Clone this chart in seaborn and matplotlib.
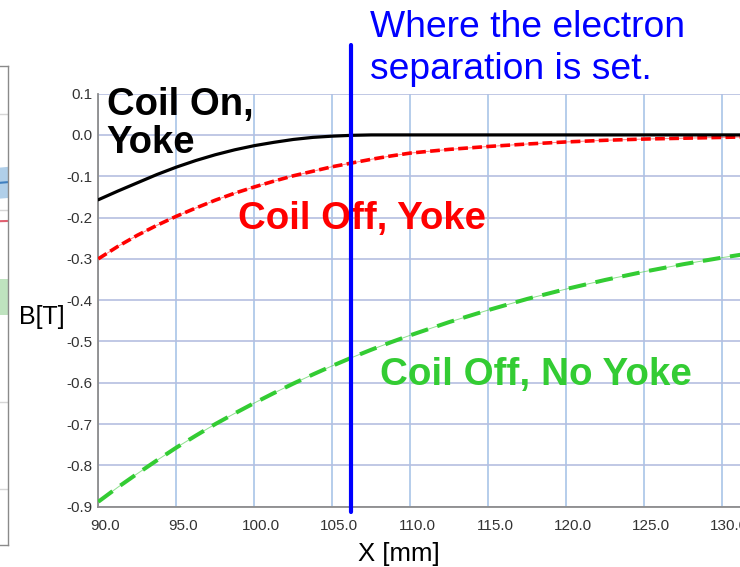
import matplotlib
matplotlib.use("Agg")
import matplotlib.pyplot as plt
from matplotlib.transforms import ScaledTranslation
import pandas as pd
import seaborn as sns

# ---------------- data ----------------
x_mm = [90.0, 91.25, 92.5, 93.75, 95.0, 96.25, 97.5, 98.75, 100.0, 101.25,
        102.5, 103.75, 105.0, 106.25, 107.5, 108.75, 110.0, 112.5, 115.0, 117.5,
        120.0, 122.5, 125.0, 127.5, 130.0, 131.2]
coil_on_yoke = [-0.157, -0.136, -0.116, -0.096, -0.078, -0.062, -0.048, -0.036,
                -0.026, -0.018, -0.011, -0.006, -0.003, -0.001, 0.000, 0.000,
                0.000, 0.000, 0.000, 0.000, 0.000, 0.000, 0.000, 0.000, 0.000, 0.000]
coil_off_yoke = [-0.300, -0.270, -0.243, -0.219, -0.197, -0.177, -0.158, -0.141,
                 -0.126, -0.112, -0.099, -0.088, -0.077, -0.068, -0.059, -0.051,
                 -0.044, -0.035, -0.028, -0.022, -0.017, -0.013, -0.010, -0.008,
                 -0.006, -0.005]
coil_off_no_yoke = [-0.888, -0.853, -0.820, -0.788, -0.757, -0.728, -0.700, -0.674,
                    -0.649, -0.625, -0.602, -0.580, -0.559, -0.539, -0.520, -0.502,
                    -0.485, -0.453, -0.424, -0.397, -0.373, -0.351, -0.331, -0.313,
                    -0.297, -0.290]
separation_x = 106.2

x_ticks = [90, 95, 100, 105, 110, 115, 120, 125, 130]
x_ticklabels = ["90.0", "95.0", "100.0", "105.0", "110.0", "115.0", "120.0", "125.0", "130.0"]
y_ticks = [0.1, 0.0, -0.1, -0.2, -0.3, -0.4, -0.5, -0.6, -0.7, -0.8, -0.9]
y_ticklabels = ["0.1", "0.0", "-0.1", "-0.2", "-0.3", "-0.4", "-0.5", "-0.6", "-0.7", "-0.8", "-0.9"]

# partial neighbouring chart (left edge), values in its own 0..1 scale
nb_x = [0.0, 1.0]
nb_grid = [0.899, 0.699, 0.298, 0.117]
nb_blue_lo = [0.700, 0.725]
nb_blue_hi = [0.760, 0.790]
nb_blue_mid = [0.730, 0.757]
nb_red = [0.668, 0.676]
nb_green_lo = [0.480, 0.480]
nb_green_hi = [0.555, 0.555]

df = pd.DataFrame({"x": x_mm, "on_yoke": coil_on_yoke,
                   "off_yoke": coil_off_yoke, "off_noyoke": coil_off_no_yoke})

# ---------------- style ----------------
sns.set_theme(style="white")
plt.rcParams["font.family"] = ["Liberation Sans", "DejaVu Sans"]

W, H = 740, 567
fig = plt.figure(figsize=(W / 100, H / 100), dpi=100)
fig.patch.set_facecolor("white")

# neighbouring chart sliver
nb = fig.add_axes([-0.2, 22 / H, 0.2 + 7.5 / W, 479.3 / H])
nb.set_xlim(0, 1)
nb.set_ylim(0, 1)
for yv in nb_grid:
    nb.axhline(yv, color="#d6d6d6", lw=1)
nb.fill_between(nb_x, nb_blue_lo, nb_blue_hi, color="#9cc3e4", alpha=0.8, lw=0)
nb.plot(nb_x, nb_blue_mid, color="#3f7fbf", lw=1.5)
nb.plot(nb_x, nb_red, color="#e06070", lw=1.5)
nb.fill_between(nb_x, nb_green_lo, nb_green_hi, color="#bfe3bf", lw=0)
nb.set_xticks([])
nb.set_yticks([])
for s in nb.spines.values():
    s.set_color("#8a8a8a")
    s.set_linewidth(1.0)

# main axes
ax = fig.add_axes([98.3 / W, (H - 506.7) / H, 641.7 / W, 413.1 / H])
ax.set_facecolor("white")

ax.set_xlim(90, 90 + 641.7 / 15.6)
ax.set_ylim(-0.9, 0.1)
ax.set_xticks(x_ticks)
ax.set_xticklabels(x_ticklabels)
ax.set_yticks(y_ticks)
ax.set_yticklabels(y_ticklabels)

ax.xaxis.grid(True, color="#a9c5e8", lw=1.2)
ax.yaxis.grid(True, color="#b5bfe0", lw=1.2)
ax.set_axisbelow(True)

for side in ["top", "right"]:
    ax.spines[side].set_visible(False)
for side in ["left", "bottom"]:
    ax.spines[side].set_color("#8c8c8c")
    ax.spines[side].set_linewidth(1.3)

ax.tick_params(axis="both", length=0, labelsize=11, labelcolor="#333333")
ax.tick_params(axis="y", pad=4.5)
ax.tick_params(axis="x", pad=9)
off = ScaledTranslation(7 / 100, 0, fig.dpi_scale_trans)
for lab in ax.get_xticklabels():
    lab.set_transform(lab.get_transform() + off)

# curves
sns.lineplot(data=df, x="x", y="on_yoke", ax=ax, color="black", lw=2.3, zorder=4)
sns.lineplot(data=df, x="x", y="off_yoke", ax=ax, color="#ff2a2a", lw=0.7, alpha=0.6, zorder=3)
sns.lineplot(data=df, x="x", y="off_yoke", ax=ax, color="#ff0000", lw=2.6,
             linestyle=(0, (2.7, 1.2)), zorder=3)
sns.lineplot(data=df, x="x", y="off_noyoke", ax=ax, color="#44cc44", lw=0.7, alpha=0.6, zorder=3)
sns.lineplot(data=df, x="x", y="off_noyoke", ax=ax, color="#33cc33", lw=2.9,
             linestyle=(0, (4.4, 2.4)), zorder=3)

# separation marker
ax.axvline(separation_x, ymin=-0.013, ymax=1.118, color="#0000ff", lw=3.0,
           clip_on=False, zorder=6)

# labels
ax.set_xlabel("X [mm]", fontsize=18.5, color="black")
ax.xaxis.set_label_coords(0.468, -0.085)
ax.set_ylabel("B[T]", fontsize=18, color="black", rotation=0, ha="right", va="center")
ax.yaxis.set_label_coords(-0.053, 0.459)

# annotations
ax.text(90.53, 0.0483, "Coil On,", fontsize=27.5, fontweight="bold", color="black",
        ha="left", va="baseline", zorder=5)
ax.text(90.53, -0.0435, "Yoke", fontsize=27.5, fontweight="bold", color="black",
        ha="left", va="baseline", zorder=5)
ax.text(98.96, -0.228, "Coil Off, Yoke", fontsize=27.6, fontweight="bold", color="#ff0000",
        ha="left", va="baseline", zorder=5)
ax.text(108.04, -0.606, "Coil Off, No Yoke", fontsize=27.8, fontweight="bold", color="#33cc33",
        ha="left", va="baseline", zorder=5)
ax.text(107.4, 0.2367, "Where the electron", fontsize=26.8, color="#0000ff",
        ha="left", va="baseline", zorder=5)
ax.text(107.4, 0.135, "separation is set.", fontsize=26.8, color="#0000ff",
        ha="left", va="baseline", zorder=5)

fig.savefig("out.png", dpi=100, facecolor="white")
